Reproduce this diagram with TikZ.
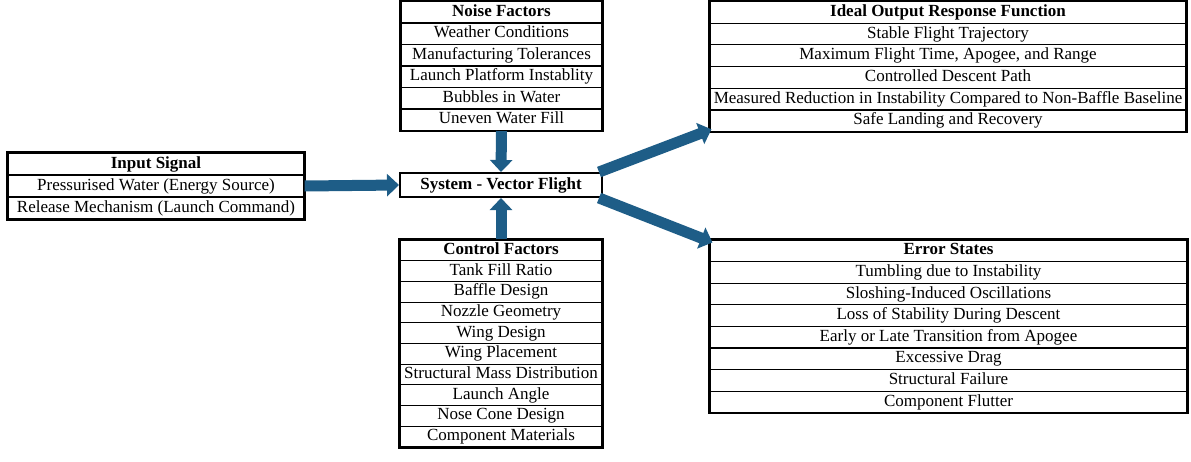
\documentclass[tikz,border=0pt]{standalone}
\usepackage{fontspec}
\setmainfont{Liberation Serif}
\usetikzlibrary{arrows.meta}
\definecolor{arrowblue}{RGB}{30,93,135}
\tikzset{
  cellbox/.style={draw=black, line width=1.1pt, inner sep=0pt, anchor=center,
    text height=12pt, text depth=4pt, font=\fontsize{17}{18}\selectfont},
  frame/.style={draw=black, line width=2pt},
  blockarrow/.style={draw=arrowblue, line width=11pt,
    -{Triangle[width=22pt,length=12pt]}}
}
% #1 name, #2 x left, #3 x right, #4 top, #5 row height, #6 number of rows, #7 rows
\newcommand{\mktable}[7]{%
  \foreach \t [count=\i from 0] in {#7} {
    \node[cellbox, minimum width={(#3-#2)*1pt}, minimum height={#5*1pt}]
      (#1-\i) at ({(#2+#3)/2}, {#4+(\i+0.5)*#5}) {\ifnum\i=0 \bfseries\fi\t};
  }
  \draw[frame] (#1-0.north west) rectangle (#1-\the\numexpr#6-1\relax.south east);
}
\begin{document}
\begin{tikzpicture}[x=1pt,y=-1pt]
\useasboundingbox (0,0) rectangle (1191,461);
\mktable{in}{8}{304}{153}{22}{3}{Input Signal,Pressurised Water (Energy Source),Release Mechanism (Launch Command)}
\mktable{nz}{401}{602}{1.5}{21.5}{6}{Noise Factors,Weather Conditions,Manufacturing Tolerances,Launch Platform Instablity,Bubbles in Water,Uneven Water Fill}
\mktable{ctl}{400}{602}{240}{20.7}{10}{Control Factors,Tank Fill Ratio,Baffle Design,Nozzle Geometry,Wing Design,Wing Placement,Structural Mass Distribution,Launch Angle,Nose Cone Design,Component Materials}
\mktable{ido}{710}{1186}{1.5}{21.7}{6}{Ideal Output Response Function,Stable Flight Trajectory,{Maximum Flight Time, Apogee, and Range},Controlled Descent Path,Measured Reduction in Instability Compared to Non-Baffle Baseline,Safe Landing and Recovery}
\mktable{err}{710}{1187}{240}{21.6}{8}{Error States,Tumbling due to Instability,Sloshing-Induced Oscillations,Loss of Stability During Descent,Early or Late Transition from Apogee,Excessive Drag,Structural Failure,Component Flutter}
\node[cellbox, line width=2pt, minimum width=202pt, minimum height=24pt, font=\fontsize{17}{18}\selectfont\bfseries]
  (sys) at (501,185) {System - Vector Flight};
\draw[blockarrow] (in-1.east) -- (sys.west);
\draw[blockarrow] (nz-5.south) -- (sys.north);
\draw[blockarrow] (ctl-0.north) -- (sys.south);
\draw[blockarrow] ([shift={(-4,0)}]sys.north east) -- ([shift={(2,-3)}]ido-5.south west);
\draw[blockarrow] ([shift={(-4,0)}]sys.south east) -- ([shift={(3,3)}]err-0.north west);
\end{tikzpicture}
\end{document}
